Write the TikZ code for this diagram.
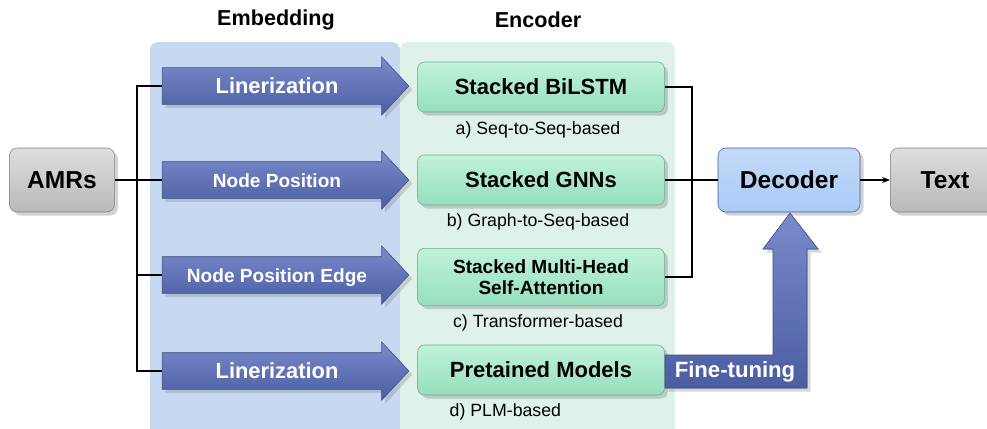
\documentclass[tikz,border=0pt]{standalone}
\usepackage{fontspec}
\setmainfont{Liberation Sans}
\usetikzlibrary{shapes.arrows,shadows,arrows.meta}

\definecolor{embedbg}{RGB}{197,217,241}
\definecolor{encbg}{RGB}{222,242,233}
\definecolor{arrowblue}{RGB}{88,110,190}
\definecolor{greentop}{RGB}{192,242,218}
\definecolor{greenbot}{RGB}{150,222,190}
\definecolor{greenline}{RGB}{105,170,140}
\definecolor{graytop}{RGB}{222,222,222}
\definecolor{graybot}{RGB}{185,185,185}
\definecolor{decblue}{RGB}{170,202,246}

\tikzset{
  encbox/.style={rounded corners=5pt, draw=greenline, top color=greentop, bottom color=greenbot,
    minimum width=185pt, minimum height=37.5pt, align=center,
    font=\fontsize{16.5}{18}\selectfont\bfseries, drop shadow={opacity=0.35}},
  graybox/.style={rounded corners=6pt, draw=gray, top color=graytop, bottom color=graybot,
    minimum height=48pt, font=\fontsize{18.4}{20}\selectfont\bfseries, drop shadow={opacity=0.35}},
  embarrow/.style={single arrow, draw=arrowblue!70!black, top color=arrowblue!80!white,
    bottom color=arrowblue!85!black, text=white, minimum height=185pt,
    single arrow head extend=8.25pt, single arrow tip angle=94, inner ysep=0pt,
    text height=19.4pt, text depth=7.6pt, font=\fontsize{16.4}{18}\selectfont\bfseries,
    drop shadow={opacity=0.3}},
  sublabel/.style={font=\fontsize{13.3}{15}\selectfont},
  paneltitle/.style={font=\fontsize{16.2}{18}\selectfont\bfseries}
}

\begin{document}
\begin{tikzpicture}[x=0.75pt,y=-0.75pt]
\useasboundingbox (0,0) rectangle (987,428);

 % panels
 \fill[embedbg, rounded corners=6pt] (150,42) rectangle (400,440);
 \fill[encbg, rounded corners=6pt] (400,42) rectangle (675,440);
 \node[paneltitle] (embtitle) at (276,20) {Embedding};
 \node[paneltitle] (enctitle) at (538,20) {Encoder};

 % input
 \node[graybox, minimum width=79pt] (amrs) at (62,180) {AMRs};

 % embedding arrows
 \node[embarrow] (lin1) at (277,86) {Linerization};
 \node[embarrow, font=\fontsize{14.3}{16}\selectfont\bfseries] (npos) at (277,180) {Node Position};
 \node[embarrow, font=\fontsize{14.3}{16}\selectfont\bfseries] (npedge) at (277,275) {Node Position Edge};
 \node[embarrow] (lin2) at (277,371) {Linerization};

 \coordinate (split) at (137,180);
 \draw[thick] (lin1.tail) -| (split) |- (lin2.tail);
 \draw[thick] (amrs.east) -- (npos.tail);
 \draw[thick] (split |- npedge.tail) -- (npedge.tail);

 % encoders
 \node[encbox] (bilstm) at (541,87) {Stacked BiLSTM};
 \node[sublabel] (seqlab) at (538,130) {a) Seq-to-Seq-based};
 \node[encbox] (gnns) at (541,180) {Stacked GNNs};
 \node[sublabel] (graphlab) at (538,222) {b) Graph-to-Seq-based};
 \node[encbox, minimum height=43pt, font=\fontsize{14.3}{16}\selectfont\bfseries] (mha) at (541,277) {Stacked Multi-Head\\Self-Attention};
 \node[sublabel] (translab) at (538,323) {c) Transformer-based};
 \node[encbox] (plm) at (541,370) {Pretained Models};
 \node[sublabel, anchor=west] (plmlab) at (445,412) {d) PLM-based};

 % decoder and output
 \node[graybox, draw=arrowblue!80!black, top color=decblue!70!white, bottom color=decblue,
   minimum width=106.5pt] (dec) at (789,180) {Decoder};
 \node[graybox, minimum width=82pt] (txt) at (945,180) {Text};

 \coordinate (merge) at (692,180);
 \draw[thick] (bilstm.east) -| (merge) |- (mha.east);
 \draw[thick] (gnns.east) -- (dec.west);
 \draw[thick, -{Stealth[length=6pt]}] (dec.east) -- (txt.west);

 % fine-tuning arrow
 \filldraw[draw=arrowblue!70!black, top color=arrowblue!80!white, bottom color=arrowblue!85!black,
   drop shadow={opacity=0.3}]
   (665,355) -- (773,355) -- (773,249) -- (763,249) -- (790,213) -- (818,249)
   -- (807,249) -- (807,388) -- (665,388) -- cycle;
 \node[text=white, font=\fontsize{16.6}{18}\selectfont\bfseries] (finetune) at (735,372) {Fine-tuning};

\end{tikzpicture}
\end{document}
